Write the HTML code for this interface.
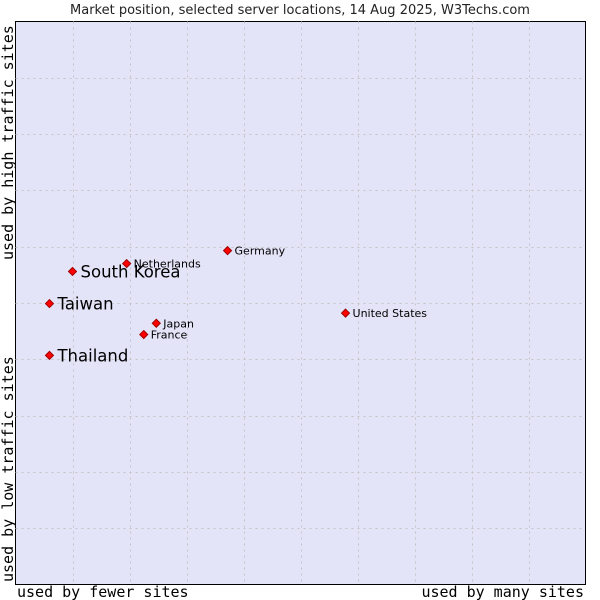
<!DOCTYPE html>
<html><head><meta charset="utf-8"><style>
html,body{margin:0;padding:0;background:#fff;width:600px;height:600px;overflow:hidden}
text{font-family:"DejaVu Sans","Liberation Sans",sans-serif}
</style></head><body>
<svg id="chart" width="600" height="600">
<text x="300" y="14" text-anchor="middle" font-size="13" fill="#222">Market position, selected server locations, 14 Aug 2025, W3Techs.com</text>
<rect x="15.5" y="21.5" width="570" height="563" fill="#e4e4f8" stroke="#000" stroke-width="1"/>
<g id="grid"></g>
<g id="marks"></g>
<text x="17" y="597" font-size="15" fill="#000" style="font-family:'DejaVu Sans Mono',monospace">used by fewer sites</text>
<text x="584" y="597" text-anchor="end" font-size="15" fill="#000" style="font-family:'DejaVu Sans Mono',monospace">used by many sites</text>
<text transform="translate(13,260) rotate(-90)" font-size="15" fill="#000" style="font-family:'DejaVu Sans Mono',monospace">used by high traffic sites</text>
<text transform="translate(13,582) rotate(-90)" font-size="15" fill="#000" style="font-family:'DejaVu Sans Mono',monospace">used by low traffic sites</text>
</svg>
<script>
const countries = ["Thailand","Taiwan","South Korea","Netherlands","Germany","United States","Japan","France"];
const xValues = [5.96,5.96,10.0,19.5,37.2,57.9,24.7,22.5];
const yValues = [40.7,49.9,55.6,57.0,59.3,48.2,46.4,44.4];
const bigLabel = [true,true,true,false,false,false,false,false];
const gridTicks = [1,2,3,4,5,6,7,8,9];
const NS="http://www.w3.org/2000/svg";
const L=15.5,T=21.5,W=570,H=563;
const xs=v=>L+v/100*W, ys=v=>T+H-v/100*H;
const grid=document.getElementById('grid'), marks=document.getElementById('marks');
gridTicks.forEach(t=>{
  const v=document.createElementNS(NS,'line');
  const x=Math.round(xs(t*10))+0.5;
  v.setAttribute('x1',x);v.setAttribute('x2',x);v.setAttribute('y1',T);v.setAttribute('y2',T+H);
  v.setAttribute('stroke','#c4c4c4');v.setAttribute('stroke-dasharray','2,4');
  
  
  grid.appendChild(v);
  const h=document.createElementNS(NS,'line');
  const y=Math.round(ys(t*10))+0.5;
  h.setAttribute('y1',y);h.setAttribute('y2',y);h.setAttribute('x1',L);h.setAttribute('x2',L+W);
  h.setAttribute('stroke','#c4c4c4');h.setAttribute('stroke-dasharray','2,4');
  
  
  grid.appendChild(h);
});
countries.forEach((c,i)=>{
  const x=xs(xValues[i]), y=ys(yValues[i]);
  const p=document.createElementNS(NS,'polygon');
  p.setAttribute('points',`${x},${y-4} ${x+4},${y} ${x},${y+4} ${x-4},${y}`);
  p.setAttribute('fill','#ff0000');p.setAttribute('stroke','#a00000');p.setAttribute('stroke-width','1');
  
  
  marks.appendChild(p);
  const t=document.createElementNS(NS,'text');
  t.setAttribute('x',x+(bigLabel[i]?8:7));
  t.setAttribute('y',y+(bigLabel[i]?6:4));
  t.setAttribute('font-size',bigLabel[i]?'16.5':'11');
  t.setAttribute('fill','#000');
  t.textContent=c;
  
  
  marks.appendChild(t);
});
</script>
</body></html>
